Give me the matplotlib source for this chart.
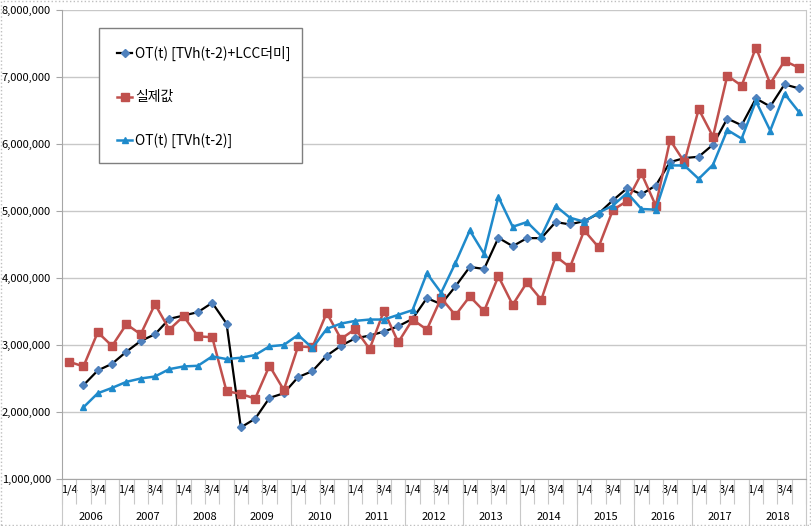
import numpy as np
import matplotlib
matplotlib.use('Agg')
import matplotlib.pyplot as plt
from matplotlib.patches import Rectangle
from matplotlib.ticker import FuncFormatter

plt.rcParams['font.family'] = ['Noto Sans CJK KR', 'DejaVu Sans']

years = [str(y) for y in range(2006, 2019)]
q_labels = ['1/4', '', '3/4', '']

# values in millions, 2006 Q1 .. 2018 Q4
ot_lcc = [np.nan,
          2.40, 2.62, 2.72, 2.90, 3.06, 3.16, 3.39, 3.44, 3.49, 3.63, 3.32, 1.77, 1.90, 2.21, 2.28, 2.52,
          2.61, 2.84, 2.99, 3.10, 3.14, 3.20, 3.28, 3.39, 3.70, 3.61,
          3.875, 4.165, 4.135, 4.60, 4.475, 4.595, 4.595, 4.835, 4.80, 4.85, 4.96,
          5.16, 5.34, 5.25, 5.38, 5.73, 5.79, 5.81, 5.99, 6.38, 6.28, 6.68, 6.56, 6.89, 6.83]
actual = [2.75, 2.68, 3.19, 2.985, 3.31, 3.16, 3.61, 3.23, 3.43, 3.13, 3.115, 2.31, 2.27, 2.20, 2.69, 2.33, 2.98,
          2.965, 3.48, 3.09, 3.24, 2.94, 3.51, 3.04, 3.38, 3.23, 3.70,
          3.445, 3.725, 3.505, 4.025, 3.60, 3.935, 3.675, 4.325, 4.16, 4.71, 4.46,
          5.015, 5.15, 5.56, 5.08, 6.06, 5.73, 6.52, 6.11, 7.02, 6.87, 7.44, 6.90, 7.24, 7.14]
ot_tvh = [np.nan,
          2.07, 2.28, 2.36, 2.45, 2.50, 2.53, 2.64, 2.68, 2.69, 2.83, 2.79, 2.81, 2.85, 2.98, 3.00, 3.15,
          2.955, 3.24, 3.32, 3.36, 3.38, 3.38, 3.45, 3.52, 4.07, 3.78,
          4.225, 4.71, 4.36, 5.21, 4.765, 4.835, 4.625, 5.075, 4.90, 4.84, 4.975,
          5.08, 5.27, 5.03, 5.02, 5.68, 5.68, 5.48, 5.69, 6.21, 6.08, 6.64, 6.20, 6.75, 6.48]

names = ['OT(t) [TVh(t-2)+LCC더미]', '실제값', 'OT(t) [TVh(t-2)]']

x = np.arange(len(actual))
scale = 1e6

fig = plt.figure(figsize=(8.12, 5.26), dpi=100)
ax = fig.add_axes([62/812, 1-479/526, (806-62)/812, (479-10)/526])

ax.plot(x, np.array(ot_lcc)*scale, color='black', lw=1.6, marker='D', ms=4,
        mfc='#4F81BD', mec='#4F81BD', label=names[0])
ax.plot(x, np.array(actual)*scale, color='#C0504D', lw=1.8, marker='s', ms=5.5, label=names[1])
ax.plot(x, np.array(ot_tvh)*scale, color='#1F8ACB', lw=1.8, marker='^', ms=5, label=names[2])

ax.set_ylim(1e6, 8e6)
ax.set_yticks(np.arange(1, 9)*scale)
ax.yaxis.set_major_formatter(FuncFormatter(lambda v, p: '{:,.0f}'.format(v)))
ax.yaxis.grid(True, color='#C8C8C8', lw=1)
ax.set_axisbelow(True)
ax.tick_params(axis='y', length=4, color='#A6A6A6', labelsize=8, pad=4)

ax.set_xlim(-0.5, len(x)-0.5)
ax.set_xticks(x, labels=q_labels*len(years))
ax.set_xticks(np.arange(-0.5, len(x), 1), minor=True)
ax.tick_params(axis='x', which='major', length=0, labelsize=8, pad=4)
ax.tick_params(axis='x', which='minor', length=18, color='#C8C8C8', width=0.8, direction='out')

sec = ax.secondary_xaxis('bottom')
sec.set_xticks(np.arange(len(years))*4+1.5, labels=years)
sec.set_xticks(np.arange(-0.5, len(x), 4), minor=True)
sec.tick_params(which='major', length=0, labelsize=8, pad=24)
sec.tick_params(which='minor', length=34, color='#C8C8C8', width=0.8)
sec.spines['bottom'].set_visible(False)

for s in ['left', 'bottom']:
    ax.spines[s].set_color('#A6A6A6')
ax.spines['right'].set_color('#C8C8C8')
ax.spines['top'].set_visible(False)

# legend box drawn separately so its size matches
ax.add_patch(Rectangle((99/812, 1-163/526), 203/812, 135/526, transform=fig.transFigure,
                       fill=True, fc='white', ec='#7F7F7F', lw=1, zorder=5, clip_on=False))
leg = ax.legend(loc='upper left', bbox_to_anchor=(99/812, 1-28/526),
                bbox_transform=fig.transFigure, frameon=False, fontsize=10,
                labelspacing=2.1, borderpad=1.3, borderaxespad=0,
                handlelength=1.1, handletextpad=0.2)
leg.set_zorder(6)

fig.patches.append(Rectangle((0.001, 0.001), 0.997, 0.997, transform=fig.transFigure,
                             fill=False, ec='#BFBFBF', ls=':', lw=1))

fig.savefig('out.png', dpi=100)
